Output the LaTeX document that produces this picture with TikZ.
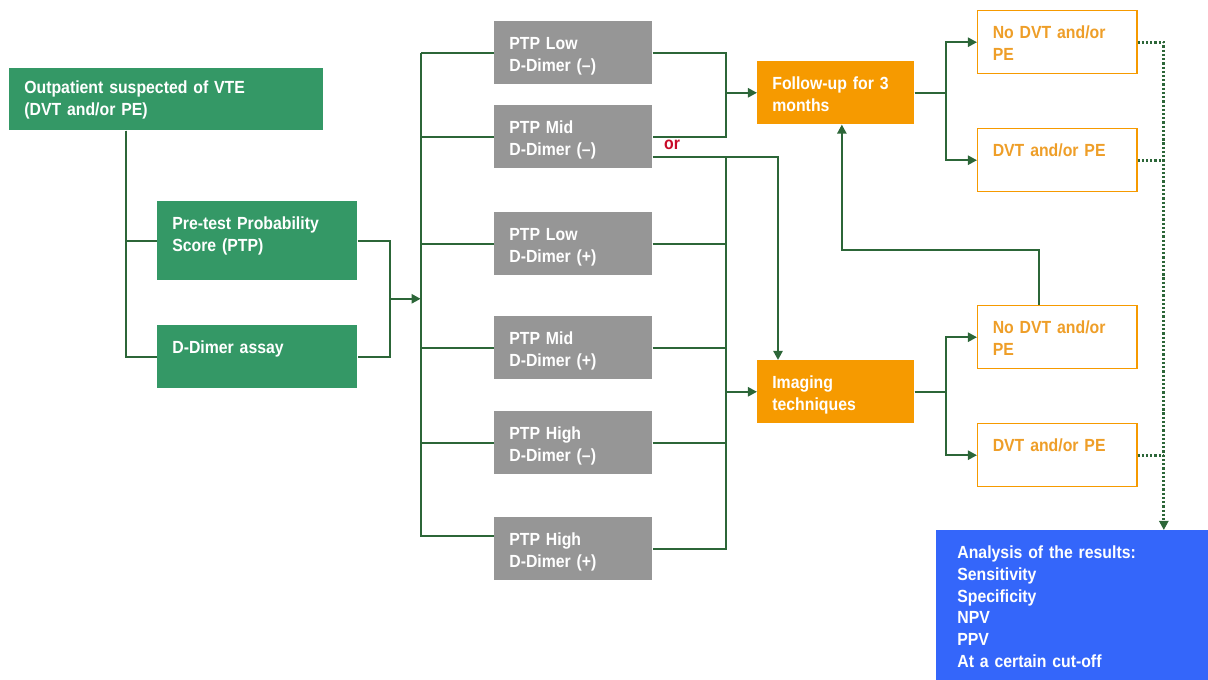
\documentclass[tikz,border=0pt]{standalone}
\usepackage{fontspec}
\setmainfont{Liberation Sans}[FakeStretch=0.9]
\usetikzlibrary{arrows.meta, calc}

\definecolor{boxgreen}{RGB}{52,152,102}
\definecolor{linegreen}{RGB}{44,102,56}
\definecolor{boxgrey}{RGB}{150,150,150}
\definecolor{boxorange}{RGB}{246,154,0}
\definecolor{txtorange}{RGB}{238,158,40}
\definecolor{boxblue}{RGB}{52,102,250}
\definecolor{orred}{RGB}{200,10,40}

\newcommand{\flowfont}{\fontsize{12.5}{15.5}\selectfont\bfseries}

\begin{document}
\begin{tikzpicture}[x=0.025cm, y=-0.025cm, >={Triangle[length=6.5pt, width=6.5pt]},
    flowbox/.style={rectangle, anchor=north west, align=left, inner xsep=10.7pt,
        inner ysep=11pt, text height=9pt, font=\flowfont},
    greenbox/.style={flowbox, fill=boxgreen, text=white},
    greybox/.style={flowbox, fill=boxgrey, text=white, text width=3.2cm, text depth=13.8pt},
    orangebox/.style={flowbox, fill=boxorange, text=white, text width=3.175cm, text depth=13.8pt},
    outcome/.style={flowbox, draw=boxorange, line width=1pt, text=txtorange,
        text width=3.225cm, text depth=13.8pt},
    conn/.style={draw=linegreen, line width=1.6pt},
    dotline/.style={draw=linegreen, line width=2pt, dash pattern=on 1.6pt off 1.4pt}]

    % canvas in pixels of the original figure (y grows downward)
    \useasboundingbox (0,0) rectangle (1208,679);

    % ================= Entry =================
    \node[greenbox, text width=7.1cm, inner ysep=9pt, text depth=17.1pt] (outp) at (9,68)
        {Outpatient suspected of VTE\\(DVT and/or PE)};
    \node[greenbox, text width=4.25cm, text depth=25.2pt] (ptp) at (157,201)
        {Pre-test Probability\\Score (PTP)};
    \node[greenbox, text width=4.25cm, text depth=13.8pt] (dd) at (157,325) {D-Dimer assay};

    \draw[conn] (outp.south west) ++(117,0) |- (ptp.west);
    \draw[conn] (outp.south west) ++(117,0) |- (dd.west);
    \draw[conn] (ptp.east) -- ++(32,0) |- (dd.east);

    % ================= PTP / D-Dimer groups =================
    \node[greybox] (g1) at (494,21)  {PTP Low\\D-Dimer (–)};
    \node[greybox] (g2) at (494,105) {PTP Mid\\D-Dimer (–)};
    \node[greybox] (g3) at (494,212) {PTP Low\\D-Dimer (+)};
    \node[greybox] (g4) at (494,316) {PTP Mid\\D-Dimer (+)};
    \node[greybox] (g5) at (494,411) {PTP High\\D-Dimer (–)};
    \node[greybox] (g6) at (494,517) {PTP High\\D-Dimer (+)};

    \node[font=\flowfont, text=orred, inner sep=0pt] (orlbl) at (672,145) {or};

    % left bus
    \coordinate (busL) at ($(ptp.east)!0.5!(dd.east)+(63,0)$);
    \draw[conn, ->] ($(ptp.east)!0.5!(dd.east)+(32,0)$) -- (busL);
    \draw[conn] (g1.west -| busL) |- ($(g6.west)+(0,-13)$);
    \foreach \g in {g1,g2,g3,g4,g5}
        \draw[conn] (\g.west) -- (\g.west -| busL);

    % ================= Follow-up and imaging =================
    \node[orangebox] (fup) at (757,61)  {Follow-up for 3\\months};
    \node[orangebox] (img) at (757,360) {Imaging\\techniques};

    \draw[conn] (g1.east) -- ++(73,0) |- (g2.east);
    \draw[conn, ->] (fup.west -| g1.east) ++(73,0) -- (fup.west);

    % right bus
    \coordinate (busR) at ($(img.west)+(-31,0)$);
    \draw[conn, ->] (g2.east) ++(0,20) -| ($(img.north west)+(21,0)$);
    \draw[conn] (busR |- g2.east) ++(0,20) |- (g6.east);
    \foreach \g in {g3,g4,g5}
        \draw[conn] (\g.east) -- (\g.east -| busR);
    \draw[conn, ->] (busR) -- (img.west);

    % ================= Outcomes =================
    \node[outcome] (r1) at (977,10)  {No DVT and/or\\PE};
    \node[outcome] (r2) at (977,128) {DVT and/or PE};
    \node[outcome] (r3) at (977,305) {No DVT and/or\\PE};
    \node[outcome] (r4) at (977,423) {DVT and/or PE};

    \draw[conn, ->] (fup.east) -- ++(31,0) |- (r1.west);
    \draw[conn, ->] (fup.east) -- ++(31,0) |- (r2.west);
    \draw[conn, ->] (img.east) -- ++(31,0) |- (r3.west);
    \draw[conn, ->] (img.east) -- ++(31,0) |- (r4.west);

    % negative imaging goes back to follow-up
    \draw[conn, ->] (r3.north) ++(-18,0) -- ++(0,-55) -| ($(fup.south)+(6,0)$);

    % ================= Analysis =================
    \node[flowbox, fill=boxblue, text=white, inner xsep=15pt, text width=5.75cm,
        text height=9pt, text depth=100pt] (res) at (936,530)
        {Analysis of the results:\\Sensitivity\\Specificity\\NPV\\PPV\\At a certain cut-off};

    \coordinate (drop) at ($(res.north east)+(-45,0)$);
    \draw[dotline, ->] (r1.east) -| (drop);
    \draw[dotline] (r2.east) -- (r2.east -| drop);
    \draw[dotline] (r4.east) -- (r4.east -| drop);

\end{tikzpicture}
\end{document}
